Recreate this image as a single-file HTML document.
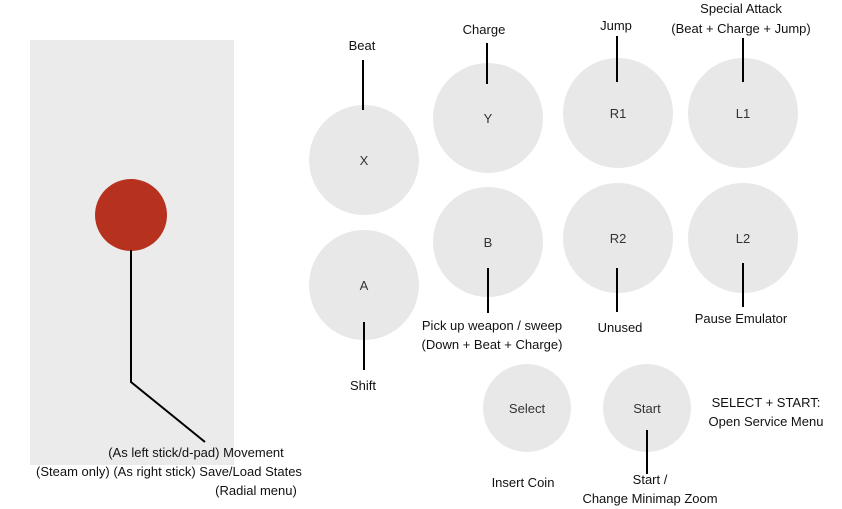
<!DOCTYPE html>
<html><head><meta charset="utf-8"><style>
html,body{margin:0;padding:0;background:#fff;}
svg{display:block;font-family:"Liberation Sans",sans-serif;}
.l{font-size:13px;fill:#111;text-anchor:middle;}
.b{font-size:13px;fill:#333;text-anchor:middle;}
.c{fill:#e8e8e8;}
line{stroke:#000;stroke-width:2;}
</style></head><body>
<svg width="842" height="509" viewBox="0 0 842 509">
<rect x="30" y="40" width="204" height="425" fill="#ebebeb"/>
<circle cx="131" cy="215" r="36" fill="#b7311f"/>
<polyline points="131,250 131,382 205,442" fill="none" stroke="#000" stroke-width="2"/>
<text class="l" x="196" y="457">(As left stick/d-pad) Movement</text>
<text class="l" x="169" y="476">(Steam only) (As right stick) Save/Load States</text>
<text class="l" x="256" y="495">(Radial menu)</text>

<circle class="c" cx="364" cy="160" r="55"/><text class="b" x="364" y="165">X</text>
<line x1="363" y1="60" x2="363" y2="110"/><text class="l" x="362" y="50">Beat</text>
<circle class="c" cx="364" cy="285" r="55"/><text class="b" x="364" y="290">A</text>
<line x1="364" y1="322" x2="364" y2="370"/><text class="l" x="363" y="390">Shift</text>

<circle class="c" cx="488" cy="118" r="55"/><text class="b" x="488" y="123">Y</text>
<line x1="487" y1="43" x2="487" y2="84"/><text class="l" x="484" y="34">Charge</text>
<circle class="c" cx="488" cy="242" r="55"/><text class="b" x="488" y="247">B</text>
<line x1="488" y1="268" x2="488" y2="313"/>
<text class="l" x="492" y="330">Pick up weapon / sweep</text>
<text class="l" x="492" y="349">(Down + Beat + Charge)</text>

<circle class="c" cx="618" cy="113" r="55"/><text class="b" x="618" y="118">R1</text>
<line x1="617" y1="36" x2="617" y2="82"/><text class="l" x="616" y="30">Jump</text>
<circle class="c" cx="618" cy="238" r="55"/><text class="b" x="618" y="243">R2</text>
<line x1="617" y1="268" x2="617" y2="312"/><text class="l" x="620" y="332">Unused</text>

<circle class="c" cx="743" cy="113" r="55"/><text class="b" x="743" y="118">L1</text>
<line x1="743" y1="38" x2="743" y2="82"/>
<text class="l" x="741" y="13">Special Attack</text>
<text class="l" x="741" y="33">(Beat + Charge + Jump)</text>
<circle class="c" cx="743" cy="238" r="55"/><text class="b" x="743" y="243">L2</text>
<line x1="743" y1="263" x2="743" y2="307"/><text class="l" x="741" y="323">Pause Emulator</text>

<circle class="c" cx="527" cy="408" r="44"/><text class="b" x="527" y="413">Select</text>
<text class="l" x="523" y="487">Insert Coin</text>
<circle class="c" cx="647" cy="408" r="44"/><text class="b" x="647" y="413">Start</text>
<line x1="647" y1="430" x2="647" y2="474"/>
<text class="l" x="650" y="484">Start /</text>
<text class="l" x="650" y="503">Change Minimap Zoom</text>
<text class="l" x="766" y="407">SELECT + START:</text>
<text class="l" x="766" y="426">Open Service Menu</text>
</svg>
</body></html>
